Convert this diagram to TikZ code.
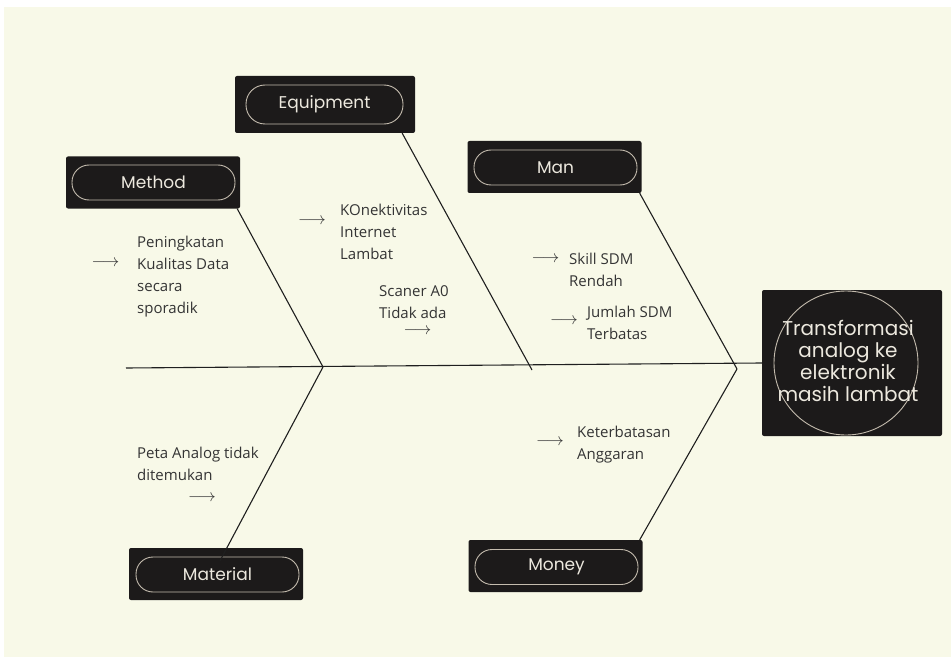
\documentclass[tikz,border=0pt]{standalone}
\usepackage{fontspec}
\setmainfont{Open Sans}
\newfontfamily\boxfont{Poppins}
\usetikzlibrary{positioning}

\definecolor{cream}{RGB}{248,249,232}
\definecolor{boxfill}{RGB}{28,26,26}
\definecolor{pillline}{RGB}{196,188,174}
\definecolor{ink}{RGB}{52,52,52}
\definecolor{labelink}{RGB}{236,232,222}

\tikzset{
  catbox/.style={fill=boxfill, rounded corners=2pt, minimum width=174pt, minimum height=52pt, inner sep=0pt},
  pill/.style={draw=pillline, line width=0.9pt, rounded corners=17pt, minimum width=163pt, minimum height=35pt,
    inner sep=0pt, text=labelink, font=\boxfont\fontsize{17}{20}\selectfont},
  ring/.style={draw=pillline, line width=0.9pt, circle, minimum size=144pt, inner sep=0pt},
  headtext/.style={align=center, inner sep=0pt, text=labelink, font=\boxfont\fontsize{20}{22}\selectfont},
  cause/.style={anchor=north west, inner sep=0pt, align=left, text=ink, font=\fontsize{15}{22}\selectfont},
  arr/.style={inner sep=0pt, text=ink, font=\fontsize{17}{17}\selectfont},
  bone/.style={draw=black!88, line width=1.1pt},
}

\begin{document}
\begin{tikzpicture}[x=1pt, y=-1pt]
    \useasboundingbox (0,0) rectangle (951,658);
    \fill[cream] (4,7) rectangle (951,657);

    % categories
    \node[catbox] (method) at (153,182.5) {};
    \node[pill] (methodlbl) at (153.5,182.5) {Method};
    \node[catbox, minimum width=180pt, minimum height=57pt] (equip) at (325,104.5) {};
    \node[pill, minimum width=157pt, minimum height=39pt, rounded corners=19pt] (equiplbl) at (324.5,104.5) {Equipment};
    \node[catbox] (man) at (554.5,167) {};
    \node[pill] (manlbl) at (555.5,167.5) {Man};
    \node[catbox] (material) at (216,574) {};
    \node[pill] (materiallbl) at (217.5,574.5) {Material};
    \node[catbox] (money) at (555.5,566) {};
    \node[pill] (moneylbl) at (556.5,567) {Money};

    % head
    \node[catbox, minimum width=180pt, minimum height=146pt] (head) at (852,363) {};
    \node[ring] (headring) at (846,363) {};
    \node[headtext] (headtxt) at (848,361) {Transformasi\\analog ke\\elektronik\\masih lambat};

    % spine and bones
    \coordinate (tail) at (126,368);
    \coordinate (j1) at (323,367);
    \coordinate (j2) at (532,370);
    \coordinate (j3) at (737,369);
    \draw[bone] (tail) -- (head.west);
    \draw[bone] ([xshift=-3pt]method.south east) -- (j1);
    \draw[bone] ([xshift=4pt,yshift=-13pt]material.north) -- (j1);
    \draw[bone] ([xshift=-13pt]equip.south east) -- (j2);
    \draw[bone] ([xshift=-2pt]man.south east) -- (j3);
    \draw[bone] ([xshift=-3pt]money.north east) -- (j3);

    % causes
    \node[cause] (c1) at (137,235.5) {Peningkatan\\Kualitas Data\\secara\\sporadik};
    \node[arr] (a1) at (105.5,263) {$\longrightarrow$};
    \node[cause] (c2) at (340,204) {KOnektivitas\\Internet\\Lambat};
    \node[arr] (a2) at (312,221) {$\longrightarrow$};
    \node[cause] (c3) at (379,285) {Scaner A0\\Tidak ada};
    \node[arr] (a3) at (417.5,331) {$\longrightarrow$};
    \node[cause] (c4) at (569,253) {Skill SDM\\Rendah};
    \node[arr] (a4) at (545.5,259) {$\longrightarrow$};
    \node[cause] (c5) at (587,306) {Jumlah SDM\\Terbatas};
    \node[arr] (a5) at (564,321) {$\longrightarrow$};
    \node[cause] (c6) at (137,447) {Peta Analog tidak\\ditemukan};
    \node[arr] (a6) at (202,498) {$\longrightarrow$};
    \node[cause] (c7) at (577,426) {Keterbatasan\\Anggaran};
    \node[arr] (a7) at (550,442) {$\longrightarrow$};
\end{tikzpicture}
\end{document}
